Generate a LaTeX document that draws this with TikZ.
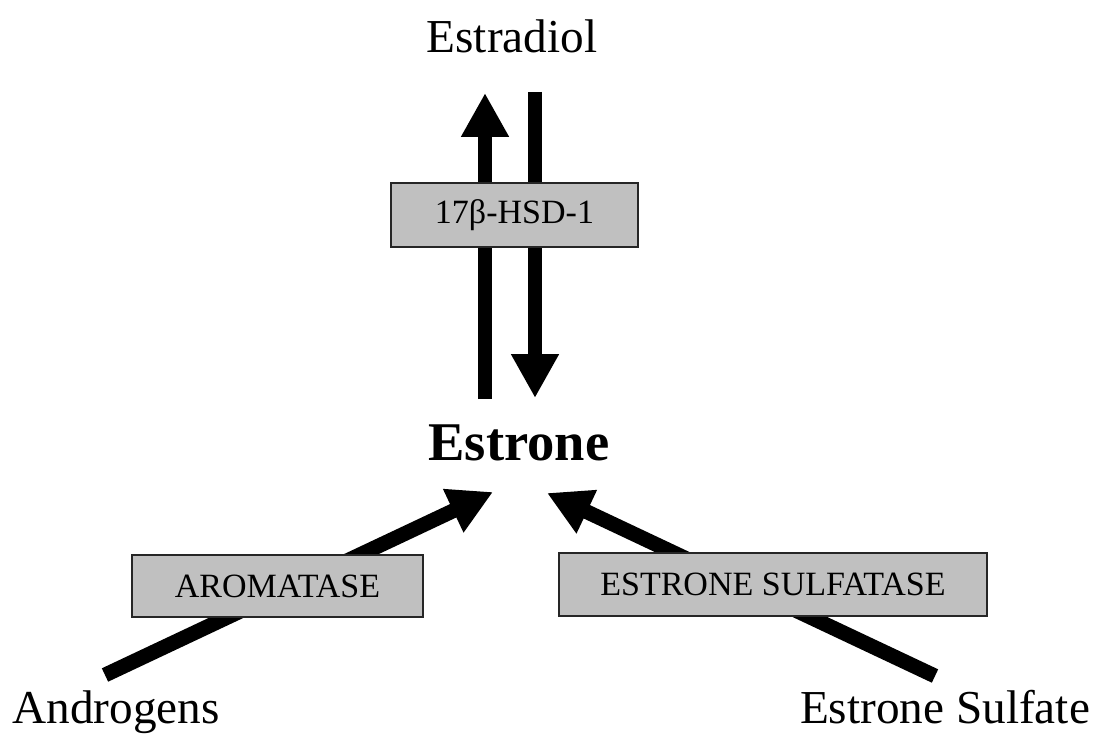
\documentclass[tikz,border=0pt]{standalone}
\usepackage{fontspec}
\setmainfont{Liberation Serif}
\usepackage{tikz}
\usetikzlibrary{arrows.meta, positioning}

\definecolor{boxgray}{RGB}{192,192,192}

\begin{document}
\begin{tikzpicture}[
    compound/.style={inner sep=0pt, anchor=base, font=\fontsize{33.6}{40}\selectfont},
    enzyme/.style={draw=black!85, line width=1pt, fill=boxgray, inner sep=0pt,
        font=\fontsize{24.2}{29}\selectfont},
    fatarrow/.style={line width=0.37cm, -{Triangle[length=1.1cm, width=1.125cm]}}
]
    \useasboundingbox (0,0) rectangle (27.4,18.375);

    % Compounds
    \node[compound] (estradiol) at (12.8,17.05) {Estradiol};
    \node[compound, font=\fontsize{38.8}{46}\selectfont\bfseries] (estrone) at (12.975,6.875) {Estrone};
    \node[compound] (androgens) at (2.9,0.28) {Androgens};
    \node[compound] (sulfate) at (23.625,0.28) {Estrone Sulfate};

    % Arrow ends
    \coordinate (upS) at (12.125,8.4);
    \coordinate (upE) at (12.125,16.05);
    \coordinate (dnS) at (13.375,16.075);
    \coordinate (dnE) at (13.375,8.425);
    \coordinate (aroS) at (2.625,1.5);
    \coordinate (aroE) at (12.325,6.075);
    \coordinate (sulS) at (23.375,1.475);
    \coordinate (sulE) at (13.675,6.05);

    % Conversions
    \draw[fatarrow] (upS) -- (upE);
    \draw[fatarrow] (dnS) -- (dnE);
    \draw[fatarrow] (aroS) -- (aroE);
    \draw[fatarrow] (sulS) -- (sulE);

    % Enzymes
    \node[enzyme, minimum width=6.175cm, minimum height=1.6cm] (hsd) at (12.8625,13.0) {17β-HSD-1};
    \node[enzyme, minimum width=7.275cm, minimum height=1.55cm] (aromatase) at (6.9375,3.725) {AROMATASE};
    \node[enzyme, minimum width=10.7cm, minimum height=1.575cm] (sulfatase) at (19.325,3.7625) {ESTRONE SULFATASE};
\end{tikzpicture}
\end{document}
